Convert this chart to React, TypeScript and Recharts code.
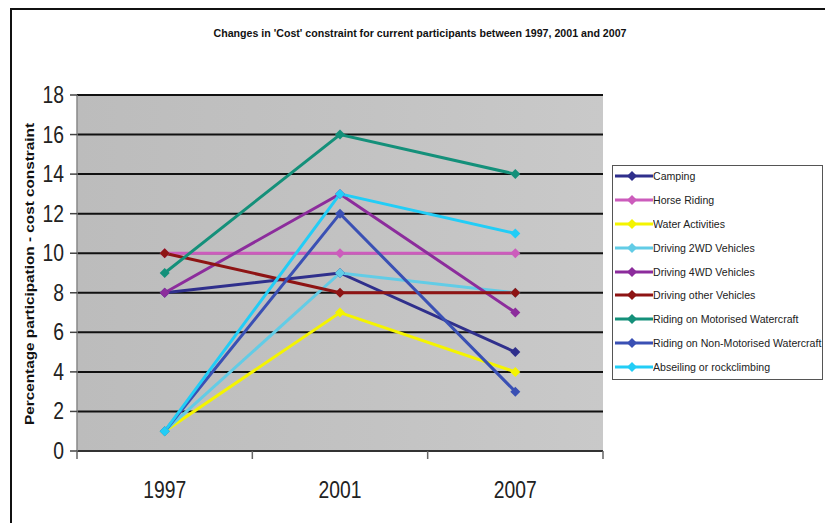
import { LineChart, Line, XAxis, YAxis, CartesianGrid, Legend } from 'recharts'

// years on the x axis
const years = ['1997', '2001', '2007']

// % participation with a cost constraint, per activity
const camping = [8, 9, 5]
const horseRiding = [10, 10, 10]
const waterActivities = [1, 7, 4]
const driving2wd = [1, 9, 8]
const driving4wd = [8, 13, 7]
const drivingOther = [10, 8, 8]
const motorisedWatercraft = [9, 16, 14]
const nonMotorisedWatercraft = [1, 12, 3]
const abseiling = [1, 13, 11]

const yTicks = [0, 2, 4, 6, 8, 10, 12, 14, 16, 18]

const SERIES = [
    { name: 'Camping', values: camping, color: '#2f2f8c' },
    { name: 'Horse Riding', values: horseRiding, color: '#cc5cbc' },
    { name: 'Water Activities', values: waterActivities, color: '#f4f400' },
    { name: 'Driving 2WD Vehicles', values: driving2wd, color: '#62cce6' },
    { name: 'Driving 4WD Vehicles', values: driving4wd, color: '#8c2c9c' },
    { name: 'Driving other Vehicles', values: drivingOther, color: '#8e1414' },
    { name: 'Riding on Motorised Watercraft', values: motorisedWatercraft, color: '#14907a' },
    { name: 'Riding on Non-Motorised Watercraft', values: nonMotorisedWatercraft, color: '#3a50b4' },
    { name: 'Abseiling or rockclimbing', values: abseiling, color: '#22cdf6' },
]

const chartData = years.map((year, i) => {
    const row: Record<string, string | number> = { year }
    SERIES.forEach((s) => {
        row[s.name] = s.values[i]
    })
    return row
})

const FONT = '"Liberation Sans", Arial, sans-serif'
const PLOT_LEFT = 77
const PLOT_RIGHT = 603
const BAND = (PLOT_RIGHT - PLOT_LEFT) / years.length
// the original uses a condensed face; squeeze the glyphs to match
const SQUEEZE = 0.84

function Diamond(props: any) {
    const { cx, cy, stroke } = props
    if (cx == null || cy == null) return null
    const r = 5
    return <path d={`M${cx},${cy - r}L${cx + r},${cy}L${cx},${cy + r}L${cx - r},${cy}Z`} fill={stroke} />
}

function YearTick({ x, y, payload, index }: any) {
    const half = BAND / 2
    return (
        <g>
            <line x1={x - half} x2={x - half} y1={y} y2={y + 8} stroke="#666" strokeWidth={1.5} />
            {index === years.length - 1 && (
                <line x1={x + half} x2={x + half} y1={y} y2={y + 8} stroke="#666" strokeWidth={1.5} />
            )}
            <text
                transform={`translate(${x}, ${y + 47}) scale(${SQUEEZE}, 1)`}
                textAnchor="middle"
                fontSize={23}
                fontFamily={FONT}
                fill="#222"
            >
                {payload.value}
            </text>
        </g>
    )
}

function ValueTick({ x, y, payload }: any) {
    return (
        <text
            transform={`translate(${x}, ${y + 8}) scale(${SQUEEZE}, 1)`}
            textAnchor="end"
            fontSize={23}
            fontFamily={FONT}
            fill="#222"
        >
            {payload.value}
        </text>
    )
}

function LegendBox({ payload }: any) {
    const order = SERIES.map((s) => s.name)
    const items = [...(payload || [])].sort((a: any, b: any) => order.indexOf(a.value) - order.indexOf(b.value))
    return (
        <div
            style={{
                width: 211,
                height: 215,
                boxSizing: 'border-box',
                border: '1px solid #555',
                background: '#fff',
                fontFamily: FONT,
            }}
        >
            <div style={{ marginTop: -2 }}>
                {items.map((entry: any) => (
                    <div key={entry.value} style={{ display: 'flex', alignItems: 'center', height: 23.9 }}>
                        <svg width={39} height={12} style={{ marginLeft: 1, flexShrink: 0 }}>
                            <line x1={1} x2={39} y1={6} y2={6} stroke={entry.color} strokeWidth={3} />
                            <Diamond cx={18} cy={6} stroke={entry.color} />
                        </svg>
                        <span
                            style={{
                                fontSize: 11.5,
                                color: '#222',
                                whiteSpace: 'nowrap',
                                display: 'inline-block',
                                transform: 'scaleX(0.92)',
                                transformOrigin: 'left center',
                            }}
                        >
                            {entry.value}
                        </span>
                    </div>
                ))}
            </div>
        </div>
    )
}

export default function App() {
    return (
        <div style={{ position: 'absolute', left: 0, top: 0, width: 825, height: 523, background: '#fff', overflow: 'hidden' }}>
            <div
                style={{
                    position: 'absolute',
                    left: 10,
                    top: 8,
                    width: 830,
                    height: 530,
                    borderTop: '2px solid #111',
                    borderLeft: '2px solid #111',
                }}
            />
            <LineChart
                width={825}
                height={523}
                data={chartData}
                margin={{ top: 95, right: 825 - PLOT_RIGHT, bottom: 32, left: PLOT_LEFT - 50 }}
                style={{ position: 'absolute', left: 0, top: 0 }}
            >
                <defs>
                    <linearGradient id="plotBg" x1="0" y1="0" x2="1" y2="0">
                        <stop offset="0%" stopColor="#bcbcbc" />
                        <stop offset="50%" stopColor="#c2c2c2" />
                        <stop offset="100%" stopColor="#c9c9c9" />
                    </linearGradient>
                </defs>
                <CartesianGrid
                    vertical={false}
                    stroke="#111"
                    strokeWidth={2}
                    fill="url(#plotBg)"
                    fillOpacity={1}
                />
                <XAxis
                    dataKey="year"
                    type="category"
                    padding={{ left: BAND / 2, right: BAND / 2 }}
                    axisLine={{ stroke: '#333', strokeWidth: 2 }}
                    tickLine={false}
                    tickSize={0}
                    tickMargin={0}
                    tick={<YearTick />}
                    height={40}
                    interval={0}
                />
                <YAxis
                    type="number"
                    domain={[0, 18]}
                    ticks={yTicks}
                    width={50}
                    axisLine={{ stroke: '#888', strokeWidth: 1.5 }}
                    tickLine={{ stroke: '#444', strokeWidth: 1.5 }}
                    tickSize={7}
                    tickMargin={6}
                    tick={<ValueTick />}
                    interval={0}
                />
                {SERIES.map((s) => (
                    <Line
                        key={s.name}
                        type="linear"
                        dataKey={s.name}
                        name={s.name}
                        stroke={s.color}
                        strokeWidth={3}
                        dot={(p: any) => <Diamond key={`${s.name}-${p.index}`} {...p} stroke={s.color} />}
                        activeDot={false}
                        isAnimationActive={false}
                    />
                ))}
                <Legend
                    layout="vertical"
                    align="center"
                    verticalAlign="middle"
                    content={<LegendBox />}
                    wrapperStyle={{ left: 612, top: 165, width: 211, height: 215 }}
                />
            </LineChart>
            <svg width={825} height={523} style={{ position: 'absolute', left: 0, top: 0, pointerEvents: 'none' }}>
                <text
                    x={420}
                    y={37}
                    textAnchor="middle"
                    fontSize={11}
                    fontWeight="bold"
                    fontFamily={FONT}
                    fill="#111"
                    textLength={413}
                    lengthAdjust="spacingAndGlyphs"
                >
                    Changes in 'Cost' constraint for current participants between 1997, 2001 and 2007
                </text>
                <text
                    transform="translate(34, 274) rotate(-90)"
                    textAnchor="middle"
                    fontSize={12}
                    fontWeight="bold"
                    fontFamily={FONT}
                    fill="#111"
                    textLength={302}
                    lengthAdjust="spacingAndGlyphs"
                >
                    Percentage participation - cost constraint
                </text>
            </svg>
        </div>
    )
}
